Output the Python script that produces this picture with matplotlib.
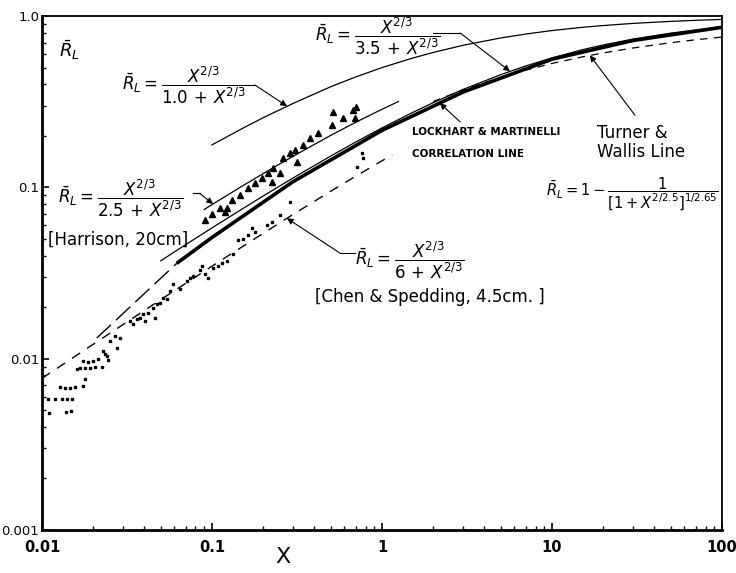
import matplotlib
matplotlib.use("Agg")
import matplotlib.pyplot as plt
from matplotlib.ticker import LogLocator, NullFormatter, FixedLocator, FixedFormatter

plt.rcParams['font.family'] = ['DejaVu Sans']
plt.rcParams['mathtext.fontset'] = 'dejavusans'

# ---------------- data ----------------
x_ticks = [0.01, 0.1, 1, 10, 100]
x_tick_labels = ["0.01", "0.1", "1", "10", "100"]
y_ticks = [0.001, 0.01, 0.1, 1.0]
y_tick_labels = ["0.001", "0.01", "0.1", "1.0"]

# R_L = X^(2/3)/(1.0 + X^(2/3))
c10_x = [0.1, 0.15, 0.2, 0.3, 0.5, 0.7, 1, 1.5, 2, 3, 5, 7, 10, 15, 20, 30, 50, 70, 100]
c10_r = [0.177, 0.220, 0.255, 0.309, 0.387, 0.441, 0.500, 0.567, 0.613, 0.675,
         0.745, 0.785, 0.823, 0.859, 0.880, 0.906, 0.931, 0.944, 0.956]
# R_L = X^(2/3)/(2.5 + X^(2/3))  [Harrison]
c25_x = [0.09, 0.1, 0.15, 0.2, 0.3, 0.5, 0.7, 1, 1.25]
c25_r = [0.0743, 0.0793, 0.1015, 0.1203, 0.152, 0.2013, 0.2397, 0.2857, 0.317]
# R_L = X^(2/3)/(3.5 + X^(2/3))
c35_x = [0.05, 0.07, 0.1, 0.15, 0.2, 0.3, 0.5, 0.7, 1, 1.5, 2, 3, 5, 7, 10, 15, 20, 30, 50, 70, 100]
c35_r = [0.0373, 0.0463, 0.0580, 0.0746, 0.0890, 0.1135, 0.1525, 0.1838, 0.2222, 0.2724,
         0.312, 0.373, 0.455, 0.511, 0.570, 0.635, 0.678, 0.734, 0.795, 0.829, 0.860]
# R_L = X^(2/3)/(6 + X^(2/3))  [Chen & Spedding]
c6_x = [0.01, 0.02, 0.05, 0.1, 0.2, 0.3, 0.5, 0.7, 1, 1.15]
c6_r = [0.00768, 0.01213, 0.02212, 0.03466, 0.0539, 0.0695, 0.0950, 0.1161, 0.1429, 0.1547]
# Lockhart & Martinelli correlation line
lm_dash_x = [0.021, 0.062]
lm_dash_r = [0.0132, 0.036]
lm_x = [0.062, 0.1, 0.3, 1, 3, 10, 30, 100]
lm_r = [0.036, 0.051, 0.108, 0.215, 0.36, 0.56, 0.72, 0.86]
# Turner & Wallis line
tw_x = [2, 3, 5, 7, 10, 15, 20, 30, 50, 70, 100]
tw_r = [0.317, 0.371, 0.439, 0.483, 0.529, 0.577, 0.609, 0.651, 0.699, 0.727, 0.754]

# Harrison (20 cm) data - triangles
harr_x = [0.515, 0.590, 0.508, 0.675, 0.703, 0.693, 0.420, 0.377, 0.343, 0.316, 0.251,
          0.225, 0.288, 0.262, 0.119, 0.229, 0.122, 0.091, 0.100, 0.111, 0.131, 0.146,
          0.163, 0.179, 0.197, 0.213, 0.308]
harr_r = [0.275, 0.253, 0.231, 0.282, 0.294, 0.253, 0.207, 0.193, 0.176, 0.140, 0.121,
          0.107, 0.158, 0.148, 0.0714, 0.129, 0.0754, 0.0641, 0.0695, 0.0754, 0.0839, 0.0898,
          0.0987, 0.1055, 0.113, 0.122, 0.165]

# Chen & Spedding (4.5 cm) data - dots
chen_x = [0.0108, 0.01193, 0.0131, 0.01403, 0.01502, 0.01099, 0.01384, 0.01481, 0.01276,
          0.01366, 0.01461, 0.01563, 0.01742, 0.01607, 0.01673, 0.0179, 0.01916, 0.0205,
          0.0179, 0.01742, 0.01865, 0.01995, 0.02134, 0.02254, 0.02348, 0.02443,
          0.0241, 0.02285, 0.0251, 0.02687, 0.02875, 0.0276, 0.03294, 0.03428, 0.03622,
          0.03772, 0.03929, 0.04203, 0.04497, 0.04749, 0.04943, 0.04036, 0.04624, 0.05149,
          0.05433, 0.05662, 0.05897, 0.06486, 0.07129, 0.07424, 0.07733, 0.08497, 0.08736,
          0.09099, 0.0947, 0.1014, 0.1085, 0.1146, 0.1225, 0.1329, 0.1422, 0.1521, 0.1629,
          0.179, 0.1718, 0.2107, 0.2254, 0.2512, 0.2877, 0.7129, 0.7733, 0.7630]
chen_r = [0.00583, 0.00583, 0.00583, 0.00583, 0.00583, 0.00483, 0.0049, 0.00497, 0.00686,
          0.00677, 0.00677, 0.00686, 0.00695, 0.00874, 0.00886, 0.00886, 0.00886, 0.00898,
          0.00764, 0.00973, 0.0096, 0.00973, 0.0100, 0.00898, 0.0107, 0.00987,
          0.0104, 0.01114, 0.01274, 0.01364, 0.01327, 0.01159, 0.01668, 0.01603, 0.01714,
          0.01738, 0.01833, 0.01858, 0.01988, 0.02099, 0.02125, 0.01668, 0.01738, 0.02275,
          0.02244, 0.025, 0.02746, 0.02566, 0.02858, 0.02978, 0.03057, 0.03272, 0.03499,
          0.03141, 0.02978, 0.03405, 0.03499, 0.0364, 0.0374, 0.0411, 0.049, 0.0503, 0.0524,
          0.0546, 0.0576, 0.06, 0.0624, 0.0686, 0.0817, 0.131, 0.148, 0.158]

# ---------------- figure ----------------
fig = plt.figure(figsize=(7.36, 5.73), dpi=100)
ax = fig.add_axes([0.057, 0.075, 0.924, 0.897])
ax.set_xscale('log')
ax.set_yscale('log')
ax.set_xlim(0.01, 100)
ax.set_ylim(0.001, 1.0)

k = 'black'
ax.plot(c10_x, c10_r, color=k, lw=0.9)
ax.plot(c25_x, c25_r, color=k, lw=0.9)
ax.plot(c35_x, c35_r, color=k, lw=0.9)
ax.plot(c6_x, c6_r, color=k, lw=1.0, dashes=(7, 6))
ax.plot(lm_dash_x, lm_dash_r, color=k, lw=1.0, dashes=(14, 5))
ax.plot(lm_x, lm_r, color=k, lw=2.6, solid_capstyle='butt')
ax.plot(tw_x, tw_r, color=k, lw=0.9, dashes=(6, 5))

ax.plot(harr_x, harr_r, linestyle='none', marker='^', ms=4.5, color=k)
ax.plot(chen_x, chen_r, linestyle='none', marker='s', ms=2.0, color=k)

# axes styling
for s in ax.spines.values():
    s.set_color(k)
    s.set_linewidth(1.3)
ax.spines['left'].set_linewidth(2.0)
ax.spines['bottom'].set_linewidth(2.0)

ax.xaxis.set_major_locator(FixedLocator(x_ticks))
ax.xaxis.set_major_formatter(FixedFormatter(x_tick_labels))
ax.yaxis.set_major_locator(FixedLocator(y_ticks))
ax.yaxis.set_major_formatter(FixedFormatter(y_tick_labels))
ax.xaxis.set_minor_locator(LogLocator(base=10, subs=range(2, 10), numticks=20))
ax.yaxis.set_minor_locator(LogLocator(base=10, subs=range(2, 10), numticks=20))
ax.xaxis.set_minor_formatter(NullFormatter())
ax.yaxis.set_minor_formatter(NullFormatter())
ax.tick_params(which='major', direction='in', length=5, width=1.2,
               top=False, right=False)
ax.tick_params(which='minor', direction='in', length=3, width=1.0, top=False, right=False)
ax.tick_params(axis='y', which='major', pad=2, labelsize=9.5)
ax.tick_params(axis='x', which='major', pad=7, labelsize=10.5)
for lab in ax.get_xticklabels():
    lab.set_fontweight('bold')

# ---------------- text ----------------
T = ax.transAxes
fs = 12
ax.text(0.041, 0.934, r'$\bar{R}_L$', transform=T, fontsize=13, ha='center', va='center')
fig.text(0.385, 0.028, 'X', fontsize=16, ha='center', va='center')

arrow = dict(arrowstyle='-|>', color=k, lw=0.8, mutation_scale=9, shrinkA=0, shrinkB=0)

# eq 1.0
ax.text(0.210, 0.866, r'$\bar{R}_L = \dfrac{X^{2/3}}{1.0\,+\,X^{2/3}}$', transform=T,
        fontsize=fs, ha='center', va='center')
ax.plot([0.303, 0.313], [0.866, 0.866], color=k, lw=0.8, transform=T)
ax.annotate('', xy=(0.276, 0.298), xycoords='data', xytext=(0.313, 0.866),
            textcoords='axes fraction', arrowprops=arrow)

# eq 2.5 (Harrison)
ax.text(0.115, 0.646, r'$\bar{R}_L = \dfrac{X^{2/3}}{2.5\,+\,X^{2/3}}$', transform=T,
        fontsize=fs, ha='center', va='center')
ax.text(0.112, 0.564, '[Harrison, 20cm]', transform=T, fontsize=12, ha='center', va='center')
ax.plot([0.222, 0.232], [0.655, 0.655], color=k, lw=0.8, transform=T)
ax.annotate('', xy=(0.1014, 0.080), xycoords='data', xytext=(0.232, 0.655),
            textcoords='axes fraction', arrowprops=arrow)

# eq 3.5
ax.text(0.494, 0.960, r'$\bar{R}_L = \dfrac{X^{2/3}}{3.5\,+\,X^{2/3}}$', transform=T,
        fontsize=fs, ha='center', va='center')
ax.plot([0.575, 0.615], [0.967, 0.967], color=k, lw=0.8, transform=T)
ax.annotate('', xy=(5.66, 0.476), xycoords='data', xytext=(0.615, 0.967),
            textcoords='axes fraction', arrowprops=arrow)

# Lockhart & Martinelli
ax.text(0.544, 0.774, 'LOCKHART & MARTINELLI', transform=T, fontsize=7.5,
        fontweight='bold', ha='left', va='center')
ax.text(0.544, 0.732, 'CORRELATION LINE', transform=T, fontsize=7.5,
        fontweight='bold', ha='left', va='center')
ax.annotate('', xy=(2.19, 0.31), xycoords='data', xytext=(0.615, 0.794),
            textcoords='axes fraction', arrowprops=arrow)

# Turner & Wallis
ax.text(0.816, 0.772, 'Turner &', transform=T, fontsize=12, ha='left', va='center')
ax.text(0.816, 0.735, 'Wallis Line', transform=T, fontsize=12, ha='left', va='center')
ax.annotate('', xy=(16.7, 0.59), xycoords='data', xytext=(0.872, 0.807),
            textcoords='axes fraction', arrowprops=arrow)
ax.text(0.995, 0.655,
        r'$\bar{R}_L = 1 - \dfrac{1}{\left[1 + X^{2/2.5}\right]^{1/2.65}}$',
        transform=T, fontsize=10.5, ha='right', va='center')

# eq 6 (Chen & Spedding)
ax.text(0.541, 0.525, r'$\bar{R}_L = \dfrac{X^{2/3}}{6\,+\,X^{2/3}}$', transform=T,
        fontsize=fs, ha='center', va='center')
ax.text(0.571, 0.453, '[Chen & Spedding, 4.5cm. ]', transform=T, fontsize=12,
        ha='center', va='center')
ax.plot([0.438, 0.460], [0.539, 0.539], color=k, lw=0.8, transform=T)
ax.annotate('', xy=(0.276, 0.066), xycoords='data', xytext=(0.438, 0.539),
            textcoords='axes fraction', arrowprops=arrow)

fig.savefig('out.png', dpi=100)
